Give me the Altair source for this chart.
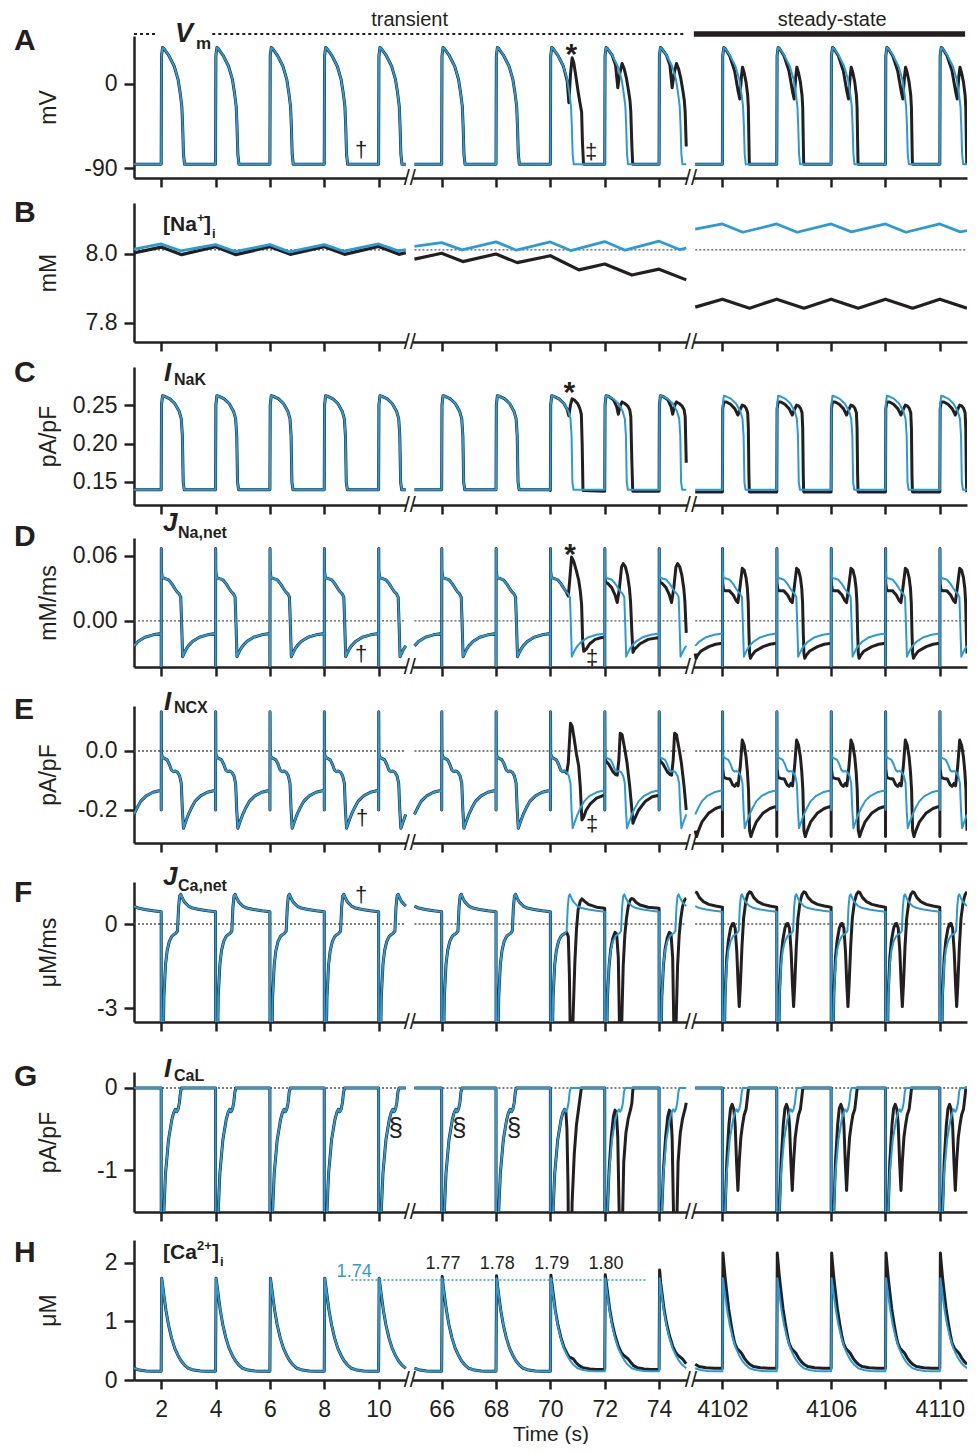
import altair as alt
import pandas as pd

BLACK = "#231f20"
BLUE = "#2a9bd5"
GREY = "#555555"
FONT = "Liberation Sans"
W = 833

# ---------------- time windows (broken x axis) ----------------
SEG_START = [1.0, 65.0, 4101.0]
SEG_END = [11.0, 75.0, 4111.0]
SEG_U0 = [0.0, 10.32, 20.65]
U_MAX = 30.65
BEATS = [[0, 2, 4, 6, 8, 10], [64, 66, 68, 70, 72, 74], [4100, 4102, 4104, 4106, 4108, 4110]]
BLACK_KIND = [["norm"] * 6, ["norm", "norm", "norm", "star", "alt", "alt"], ["ss"] * 6]
BLUE_KIND = [["norm"] * 6, ["norm"] * 6, ["norm"] * 6]
TICK_T = [2, 4, 6, 8, 10, 66, 68, 70, 72, 74, 4102, 4104, 4106, 4108, 4110]
TICK_LABELS = ["2", "4", "6", "8", "10", "66", "68", "70", "72", "74", "4102", "", "4106", "", "4110"]

# ---------------- A: Vm (mV), beat waveforms ----------------
A_NORM_T = [0.0, 0.012, 0.05, 0.10, 0.27, 0.48, 0.62, 0.70, 0.76, 0.79, 0.82, 0.86, 1.0, 1.999]
A_NORM_V = [-86, 30, 39, 38, 31, 19, 5, -10, -24, -45, -75, -86, -86, -86]
A_STAR_T = [0.0, 0.012, 0.05, 0.10, 0.27, 0.48, 0.62, 0.68, 0.74, 0.80, 0.86, 0.94, 1.02, 1.10, 1.15, 1.18, 1.22, 1.999]
A_STAR_V = [-86, 30, 39, 38, 31, 19, 3, -20, 10, 28, 23, 8, -8, -22, -30, -62, -86, -86]
A_ALT_T = [0.0, 0.012, 0.05, 0.10, 0.27, 0.40, 0.48, 0.56, 0.64, 0.72, 0.80, 0.88, 0.93, 0.96, 1.0, 1.03, 1.999]
A_ALT_V = [-86, 30, 39, 38, 31, 20, -4, 12, 22, 16, 6, -8, -18, -30, -67, -86, -86]
A_SS_T = [0.0, 0.012, 0.05, 0.10, 0.27, 0.45, 0.58, 0.64, 0.70, 0.74, 0.80, 0.87, 0.93, 0.955, 0.975, 0.99, 1.0, 1.999]
A_SS_V = [-86, 30, 39, 38, 30, 14, -8, -16, 8, 18, 12, 2, -12, -25, -60, -84, -86, -86]

# ---------------- B: [Na+]i (mM) ----------------
B_BLUE_T = [[1.0, 2.0, 2.72, 4.0, 4.72, 6.0, 6.72, 8.0, 8.72, 10.0, 10.72, 11.0],
            [65.0, 66.0, 66.75, 68.0, 68.75, 70.0, 70.75, 72.0, 72.75, 74.0, 74.75, 75.0],
            [4101.0, 4102.0, 4102.75, 4104.0, 4104.75, 4106.0, 4106.75, 4108.0, 4108.75, 4110.0, 4110.75, 4111.0]]
B_BLUE_V = [[8.014, 8.029, 8.009, 8.027, 8.007, 8.027, 8.006, 8.027, 8.008, 8.029, 8.009, 8.013],
            [8.022, 8.033, 8.012, 8.035, 8.011, 8.035, 8.010, 8.036, 8.011, 8.037, 8.013, 8.017],
            [8.072, 8.087, 8.063, 8.087, 8.063, 8.087, 8.064, 8.087, 8.063, 8.087, 8.064, 8.068]]
B_BLACK_T = [[1.0, 2.0, 2.75, 4.0, 4.75, 6.0, 6.75, 8.0, 8.75, 10.0, 10.75, 11.0],
             [65.0, 66.0, 66.78, 68.0, 68.78, 70.0, 71.05, 72.0, 73.0, 74.0, 75.0],
             [4101.0, 4102.0, 4103.0, 4104.0, 4105.0, 4106.0, 4107.0, 4108.0, 4109.0, 4110.0, 4111.0]]
B_BLACK_V = [[8.003, 8.020, 7.998, 8.021, 7.998, 8.021, 7.999, 8.021, 7.999, 8.022, 7.999, 8.004],
             [7.985, 8.002, 7.978, 8.000, 7.975, 7.995, 7.954, 7.971, 7.939, 7.956, 7.925],
             [7.846, 7.869, 7.843, 7.869, 7.843, 7.869, 7.843, 7.869, 7.843, 7.869, 7.843]]

# ---------------- C: INaK (pA/pF) ----------------
C_NORM_T = [0.0, 0.012, 0.05, 0.15, 0.32, 0.50, 0.66, 0.74, 0.78, 0.81, 0.85, 1.0, 1.999]
C_NORM_V = [0.140, 0.25, 0.262, 0.261, 0.258, 0.252, 0.242, 0.232, 0.21, 0.15, 0.140, 0.140, 0.140]
C_STAR_T = [0.0, 0.012, 0.05, 0.15, 0.32, 0.50, 0.62, 0.68, 0.74, 0.80, 0.90, 1.00, 1.08, 1.14, 1.17, 1.20, 1.999]
C_STAR_V = [0.139, 0.25, 0.262, 0.261, 0.258, 0.252, 0.244, 0.236, 0.250, 0.258, 0.256, 0.252, 0.246, 0.238, 0.200, 0.139, 0.138]
C_ALT_T = [0.0, 0.012, 0.05, 0.15, 0.32, 0.44, 0.50, 0.58, 0.64, 0.74, 0.84, 0.92, 0.96, 1.0, 1.03, 1.999]
C_ALT_V = [0.138, 0.25, 0.262, 0.261, 0.257, 0.248, 0.238, 0.250, 0.254, 0.252, 0.249, 0.244, 0.235, 0.175, 0.138, 0.138]
C_SS_T = [0.0, 0.012, 0.05, 0.15, 0.30, 0.46, 0.57, 0.64, 0.73, 0.80, 0.87, 0.93, 0.955, 0.975, 0.99, 1.0, 1.999]
C_SS_V = [0.137, 0.245, 0.254, 0.254, 0.251, 0.245, 0.237, 0.243, 0.250, 0.249, 0.246, 0.240, 0.220, 0.160, 0.138, 0.137, 0.137]

# ---------------- D: JNa,net (mM/ms) ----------------
D_NORM_T = [0.0, 0.002, 0.005, 0.010, 0.04, 0.10, 0.27, 0.40, 0.50, 0.58, 0.66, 0.72, 0.75, 0.79, 0.84, 0.92, 1.0, 1.15, 1.40, 1.70, 1.999]
D_NORM_V = [-0.0115, -0.08, 0.067, 0.046, 0.040, 0.0395, 0.038, 0.034, 0.030, 0.027, 0.025, 0.022, 0.0, -0.033, -0.030, -0.026, -0.023, -0.019, -0.015, -0.0128, -0.0115]
D_STAR_T = [0.0, 0.002, 0.005, 0.010, 0.04, 0.10, 0.27, 0.40, 0.50, 0.58, 0.66, 0.72, 0.78, 0.86, 0.96, 1.04, 1.10, 1.15, 1.19, 1.23, 1.32, 1.45, 1.65, 1.85, 1.999]
D_STAR_V = [-0.0118, -0.08, 0.067, 0.046, 0.040, 0.0395, 0.038, 0.034, 0.030, 0.027, 0.023, 0.040, 0.059, 0.055, 0.046, 0.038, 0.028, 0.015, -0.020, -0.028, -0.026, -0.021, -0.017, -0.0155, -0.0148]
D_ALT_T = [0.0, 0.002, 0.005, 0.010, 0.04, 0.10, 0.25, 0.38, 0.46, 0.54, 0.62, 0.68, 0.76, 0.84, 0.91, 0.95, 1.0, 1.04, 1.10, 1.30, 1.60, 1.999]
D_ALT_V = [-0.0148, -0.08, 0.067, 0.040, 0.035, 0.035, 0.031, 0.024, 0.017, 0.030, 0.050, 0.053, 0.050, 0.042, 0.030, 0.018, -0.011, -0.029, -0.026, -0.021, -0.017, -0.0152]
D_SS_T = [0.0, 0.002, 0.005, 0.010, 0.04, 0.10, 0.25, 0.40, 0.50, 0.57, 0.64, 0.73, 0.80, 0.87, 0.92, 0.95, 0.975, 1.0, 1.03, 1.08, 1.20, 1.50, 1.75, 1.999]
D_SS_V = [-0.0206, -0.08, 0.067, 0.035, 0.029, 0.028, 0.028, 0.024, 0.019, 0.017, 0.030, 0.0486, 0.047, 0.040, 0.030, 0.017, -0.010, -0.030, -0.0345, -0.032, -0.028, -0.0237, -0.0215, -0.0206]

# ---------------- E: INCX (pA/pF) ----------------
E_NORM_T = [0.0, 0.002, 0.005, 0.012, 0.05, 0.12, 0.22, 0.30, 0.38, 0.45, 0.52, 0.60, 0.68, 0.74, 0.78, 0.82, 0.90, 1.0, 1.10, 1.25, 1.45, 1.70, 1.999]
E_NORM_V = [-0.132, -0.20, 0.133, -0.010, -0.022, -0.025, -0.030, -0.045, -0.065, -0.070, -0.068, -0.072, -0.085, -0.110, -0.200, -0.262, -0.240, -0.215, -0.195, -0.170, -0.152, -0.140, -0.133]
E_STAR_T = [0.0, 0.002, 0.005, 0.012, 0.05, 0.12, 0.22, 0.30, 0.38, 0.45, 0.52, 0.60, 0.66, 0.74, 0.80, 0.88, 0.96, 1.04, 1.10, 1.16, 1.22, 1.32, 1.46, 1.70, 1.999]
E_STAR_V = [-0.137, -0.20, 0.133, -0.010, -0.022, -0.025, -0.030, -0.045, -0.065, -0.070, -0.068, -0.075, -0.040, 0.094, 0.085, 0.040, -0.010, -0.050, -0.120, -0.234, -0.225, -0.200, -0.180, -0.160, -0.149]
E_ALT_T = [0.0, 0.002, 0.005, 0.012, 0.05, 0.15, 0.30, 0.40, 0.46, 0.52, 0.57, 0.64, 0.75, 0.82, 0.87, 0.92, 0.96, 1.0, 1.04, 1.10, 1.25, 1.50, 1.75, 1.999]
E_ALT_V = [-0.149, -0.20, 0.133, -0.020, -0.035, -0.045, -0.070, -0.080, -0.082, -0.030, 0.060, 0.055, 0.000, -0.040, -0.080, -0.120, -0.160, -0.200, -0.245, -0.230, -0.200, -0.170, -0.155, -0.150]
E_SS_T = [0.0, 0.002, 0.005, 0.012, 0.05, 0.15, 0.28, 0.38, 0.45, 0.52, 0.58, 0.66, 0.73, 0.80, 0.87, 0.92, 0.96, 0.985, 1.0, 1.05, 1.12, 1.25, 1.50, 1.75, 1.999]
E_SS_V = [-0.186, -0.29, 0.133, -0.060, -0.090, -0.093, -0.095, -0.115, -0.120, -0.110, -0.118, -0.050, 0.037, 0.020, -0.020, -0.070, -0.130, -0.220, -0.270, -0.290, -0.270, -0.240, -0.210, -0.195, -0.187]

# ---------------- F: JCa,net (uM/ms) ----------------
F_NORM_T = [0.0, 0.004, 0.06, 0.10, 0.16, 0.22, 0.30, 0.39, 0.46, 0.54, 0.60, 0.64, 0.68, 0.72, 0.78, 0.86, 1.0, 1.15, 1.40, 1.70, 1.999]
F_NORM_V = [0.44, -5.0, -5.0, -2.6, -1.45, -0.95, -0.62, -0.44, -0.38, -0.33, -0.25, 0.60, 1.00, 1.06, 0.92, 0.78, 0.64, 0.57, 0.52, 0.47, 0.44]
F_STAR_T = [0.0, 0.004, 0.06, 0.10, 0.16, 0.22, 0.30, 0.39, 0.46, 0.54, 0.60, 0.66, 0.70, 0.74, 0.78, 0.84, 0.90, 0.96, 1.02, 1.10, 1.16, 1.25, 1.40, 1.70, 1.999]
F_STAR_V = [0.44, -5.0, -5.0, -2.6, -1.45, -0.95, -0.62, -0.44, -0.38, -0.33, -0.30, -0.45, -1.8, -4.5, -5.0, -3.2, -1.4, -0.2, 0.50, 0.82, 0.90, 0.82, 0.70, 0.60, 0.56]
F_ALT_T = [0.0, 0.004, 0.06, 0.10, 0.16, 0.22, 0.30, 0.38, 0.44, 0.50, 0.54, 0.58, 0.62, 0.68, 0.74, 0.80, 0.86, 0.92, 0.97, 1.0, 1.06, 1.15, 1.30, 1.60, 1.999]
F_ALT_V = [0.56, -5.0, -5.0, -2.6, -1.5, -0.9, -0.5, -0.3, -0.35, -1.2, -3.5, -5.0, -3.8, -1.5, -0.4, 0.2, 0.6, 0.82, 0.9, 0.91, 0.88, 0.78, 0.68, 0.6, 0.56]
F_SS_T = [0.0, 0.004, 0.06, 0.10, 0.16, 0.22, 0.30, 0.36, 0.41, 0.47, 0.53, 0.58, 0.62, 0.66, 0.72, 0.78, 0.86, 0.93, 1.0, 1.06, 1.15, 1.30, 1.50, 1.75, 1.999]
F_SS_V = [0.60, -5.0, -5.0, -2.5, -1.2, -0.6, -0.15, 0.0, 0.02, -0.15, -1.0, -2.2, -2.95, -2.2, -0.8, 0.2, 0.8, 1.05, 1.15, 1.12, 0.95, 0.80, 0.70, 0.64, 0.60]

# ---------------- G: ICaL (pA/pF) ----------------
G_NORM_T = [0.0, 0.004, 0.06, 0.10, 0.16, 0.27, 0.39, 0.46, 0.52, 0.57, 0.62, 0.67, 0.71, 0.75, 1.0, 1.999]
G_NORM_V = [0.0, -3.0, -3.0, -1.5, -1.04, -0.63, -0.39, -0.30, -0.26, -0.29, -0.26, -0.18, -0.05, 0.0, 0.0, 0.0]
G_STAR_T = [0.0, 0.004, 0.06, 0.10, 0.16, 0.27, 0.39, 0.46, 0.52, 0.57, 0.61, 0.65, 0.69, 0.74, 0.80, 0.88, 0.96, 1.04, 1.10, 1.14, 1.999]
G_STAR_V = [0.0, -3.0, -3.0, -1.5, -1.04, -0.63, -0.39, -0.30, -0.26, -0.28, -0.50, -1.2, -3.0, -3.0, -1.4, -0.8, -0.45, -0.25, -0.10, 0.0, 0.0]
G_ALT_T = [0.0, 0.004, 0.06, 0.10, 0.16, 0.24, 0.32, 0.38, 0.43, 0.48, 0.53, 0.58, 0.63, 0.70, 0.78, 0.86, 0.92, 0.96, 1.0, 1.04, 1.999]
G_ALT_V = [0.0, -3.0, -3.0, -1.5, -1.0, -0.6, -0.35, -0.27, -0.30, -0.6, -1.5, -3.0, -2.0, -0.9, -0.55, -0.38, -0.3, -0.25, -0.18, 0.0, 0.0]
G_SS_T = [0.0, 0.004, 0.06, 0.10, 0.16, 0.24, 0.30, 0.36, 0.42, 0.47, 0.52, 0.57, 0.62, 0.68, 0.74, 0.80, 0.87, 0.92, 0.96, 1.0, 1.999]
G_SS_V = [0.0, -3.0, -3.0, -1.5, -0.9, -0.45, -0.25, -0.20, -0.26, -0.45, -0.9, -1.25, -0.9, -0.6, -0.45, -0.33, -0.26, -0.12, 0.0, 0.0, 0.0]

# ---------------- H: [Ca2+]i (uM) ----------------
H_NORM_T = [0.0, 0.02, 0.06, 0.12, 0.18, 0.27, 0.38, 0.50, 0.62, 0.73, 0.85, 1.0, 1.2, 1.45, 1.7, 1.999]
H_NORM_V = [0.15, 1.74, 1.60, 1.38, 1.18, 0.94, 0.72, 0.54, 0.42, 0.33, 0.26, 0.20, 0.17, 0.155, 0.15, 0.15]
H_STAR_T = [0.0, 0.02, 0.06, 0.12, 0.18, 0.27, 0.38, 0.50, 0.62, 0.70, 0.76, 0.84, 0.94, 1.05, 1.2, 1.45, 1.7, 1.999]
H_STAR_V = [0.15, 1.79, 1.64, 1.42, 1.20, 0.96, 0.74, 0.56, 0.45, 0.39, 0.38, 0.36, 0.30, 0.25, 0.21, 0.19, 0.18, 0.18]
H_ALT_T = [0.0, 0.02, 0.06, 0.12, 0.18, 0.27, 0.38, 0.50, 0.60, 0.68, 0.76, 0.86, 0.96, 1.0, 1.05, 1.2, 1.45, 1.7, 1.999]
H_ALT_V = [0.18, 1.80, 1.66, 1.44, 1.22, 0.98, 0.76, 0.58, 0.48, 0.43, 0.40, 0.36, 0.30, 0.28, 0.25, 0.21, 0.19, 0.18, 0.18]
H_SS_T = [0.0, 0.02, 0.05, 0.10, 0.16, 0.23, 0.32, 0.40, 0.46, 0.54, 0.62, 0.70, 0.80, 0.91, 1.0, 1.14, 1.40, 1.70, 1.999]
H_SS_V = [0.20, 2.17, 2.00, 1.75, 1.50, 1.22, 0.95, 0.74, 0.62, 0.54, 0.50, 0.46, 0.38, 0.31, 0.27, 0.23, 0.21, 0.20, 0.20]
H_BLACK_PEAKS = [[1.74] * 6, [1.76, 1.77, 1.78, 1.79, 1.80, 1.88], [2.17] * 6]
H_BLUE_PEAKS = [[1.74] * 6, [1.74] * 6, [1.74] * 6]
H_PEAK_LABELS = ["1.77", "1.78", "1.79", "1.80"]
H_PEAK_TIMES = [66, 68, 70, 72]


def seg_of(t):
    for s in range(3):
        if SEG_START[s] - 1.5 <= t <= SEG_END[s] + 1.5:
            return s
    return 0


def to_u(t, s=None):
    if s is None:
        s = seg_of(t)
    return round(t - SEG_START[s] + SEG_U0[s], 4)


def beat_trace(tpl, kinds, peaks=None):
    rows = []
    for s in range(3):
        for j, b in enumerate(BEATS[s]):
            T, V = tpl[kinds[s][j]]
            for k, (o, v) in enumerate(zip(T, V)):
                t = b + o
                if SEG_START[s] - 1e-6 <= t <= SEG_END[s] + 1e-6:
                    if peaks is not None and k == 1:
                        v = peaks[s][j]
                    rows.append({"u": to_u(t, s), "v": v, "seg": s})
    df = pd.DataFrame(rows)
    df["i"] = range(len(df))
    return df


def point_trace(T, V):
    rows = []
    for s in range(3):
        for t, v in zip(T[s], V[s]):
            rows.append({"u": to_u(t, s), "v": v, "seg": s})
    df = pd.DataFrame(rows)
    df["i"] = range(len(df))
    return df


XT = [to_u(t) for t in TICK_T]
LABEL_EXPR = ("[" + ",".join("'%s'" % l for l in TICK_LABELS) + "][indexof(["
              + ",".join(repr(u) for u in XT) + "], datum.value)]")


def xenc(bottom):
    if bottom:
        axis = alt.Axis(values=XT, labelExpr=LABEL_EXPR, title="Time (s)", tickSize=9,
                        labelPadding=9, titlePadding=2, labelFlush=False, labelOverlap=False,
                        titleFontSize=21)
    else:
        axis = alt.Axis(values=XT, labels=False, title=None, tickSize=9)
    return alt.X("u:Q", scale=alt.Scale(domain=[0, U_MAX], nice=False, zero=False), axis=axis)


def yenc(dom, vals, fmt, title, h):
    return alt.Y("v:Q", scale=alt.Scale(domain=dom, nice=False, zero=False),
                 axis=alt.Axis(values=vals, format=fmt, title=title, titleX=-86, titleY=h / 2,
                               titleAngle=270, titleAlign="center", titleBaseline="middle",
                               tickSize=10, labelPadding=7,
                               labelExpr="replace(datum.label, '\u2212', '-')"))


def one():
    return pd.DataFrame({"a": [0]})


def txt(s, x, y, size, weight="normal", style="normal", color=BLACK, align="left"):
    return alt.Chart(one()).mark_text(text=s, font=FONT, fontSize=size, fontWeight=weight,
                                      fontStyle=style, color=color, align=align,
                                      baseline="middle").encode(x=alt.value(x), y=alt.value(y))


def txtu(s, u, y, size, weight="normal", color=BLACK):
    def make(X, Y):
        return alt.Chart(pd.DataFrame({"u": [u]})).mark_text(
            text=s, font=FONT, fontSize=size, fontWeight=weight, color=color,
            align="center", baseline="middle").encode(x=X, y=alt.value(y))
    return make


def ref_rule(val, X, Y, color=GREY):
    df = pd.DataFrame({"u": SEG_U0, "u2": [u + 10 for u in SEG_U0], "v": [val] * 3})
    return alt.Chart(df).mark_rule(color=color, strokeDash=[2, 2], strokeWidth=1.3).encode(
        x=X, x2="u2:Q", y=Y)


def breaks(X, h):
    gap = pd.DataFrame({"u": [10.04, 20.39], "u2": [10.27, 20.6]})
    mark = pd.DataFrame({"u": [10.15, 20.49]})
    return [
        alt.Chart(gap).mark_rule(color="white", strokeWidth=5).encode(x=X, x2="u2:Q", y=alt.value(h)),
        alt.Chart(mark).mark_text(text="//", font=FONT, fontSize=22, align="center",
                                  baseline="middle", color=BLACK).encode(x=X, y=alt.value(h)),
    ]


def panel(letter, letter_y, h, dom, yvals, yfmt, ytitle, black_df, blue_df,
          ref=None, bottom=False, extras=(), kw=3, bw=2):
    X = xenc(bottom)
    Y = yenc(dom, yvals, yfmt, ytitle, h)
    layers = []
    if ref is not None:
        layers.append(ref_rule(ref, X, Y))
    layers.append(alt.Chart(black_df).mark_line(color=BLACK, strokeWidth=kw, clip=True,
                                                 strokeJoin="round").encode(
        x=X, y=Y, detail="seg:N", order="i:Q"))
    layers.append(alt.Chart(blue_df).mark_line(color=BLUE, strokeWidth=bw, clip=True,
                                                strokeJoin="round").encode(
        x=X, y=Y, detail="seg:N", order="i:Q"))
    layers += breaks(X, h)
    layers.append(txt(letter, -120, letter_y, 30, weight="bold"))
    for e in extras:
        layers.append(e(X, Y) if callable(e) else e)
    return alt.layer(*layers).properties(width=W, height=h)


def spacer(h):
    return alt.Chart(one()).mark_text(text="").encode(
        x=alt.value(0), y=alt.value(0)).properties(width=W, height=h)


def tpl(prefix):
    g = globals()
    return {k: (g["%s_%s_T" % (prefix, k.upper())], g["%s_%s_V" % (prefix, k.upper())])
            for k in ["norm", "star", "alt", "ss"]}


# ---------------- panel A ----------------
top_dash = pd.DataFrame({"u": [0.0, 2.88], "u2": [0.8, 20.25]})
top_bar = pd.DataFrame({"u": [20.6], "u2": [30.58]})
A_extras = [
    lambda X, Y: alt.Chart(top_dash).mark_rule(color=BLACK, strokeDash=[3, 3], strokeWidth=2.2).encode(
        x=X, x2="u2:Q", y=alt.value(-2)),
    lambda X, Y: alt.Chart(top_bar).mark_rule(color=BLACK, strokeWidth=5.5).encode(
        x=X, x2="u2:Q", y=alt.value(-2)),
    txtu("transient", 10.14, -16, 20),
    txtu("steady-state", 25.69, -16, 20),
    txt("V", 41, -2, 27, weight="bold", style="italic"),
    txt("m", 62, 8, 17, weight="bold"),
    txtu("*", 16.09, 19, 30, weight="bold"),
    txtu("\u2020", 8.36, 114, 22),
    txtu("\u2021", 16.82, 116, 22),
]
pA = panel("A", 5, 142, [-100.7, 51.4], [-90, 0], "d", "mV",
           beat_trace(tpl("A"), BLACK_KIND), beat_trace(tpl("A"), BLUE_KIND), extras=A_extras)

# ---------------- panel B ----------------
B_extras = [
    txt("[Na", 29, 22, 21, weight="bold"),
    txt("+", 63, 15, 13, weight="bold"),
    txt("]", 70, 22, 21, weight="bold"),
    txt("i", 78, 31, 13, weight="bold"),
]
pB = panel("B", 10, 139, [7.7449, 8.1478], [7.8, 8.0], ".1f", "mM",
           point_trace(B_BLACK_T, B_BLACK_V), point_trace(B_BLUE_T, B_BLUE_V), ref=8.012,
           extras=B_extras, kw=3.2, bw=2.8)

# ---------------- panel C ----------------
C_extras = [
    txt("I", 30, 6, 26, weight="bold", style="italic"),
    txt("NaK", 40, 13, 16, weight="bold"),
    txtu("*", 16.02, 26, 30, weight="bold"),
]
pC = panel("C", 6, 138, [0.1201, 0.2994], [0.15, 0.20, 0.25], ".2f", "pA/pF",
           beat_trace(tpl("C"), BLACK_KIND), beat_trace(tpl("C"), BLUE_KIND), extras=C_extras)

# ---------------- panel D ----------------
D_extras = [
    txt("J", 29, -15, 26, weight="bold", style="italic"),
    txt("Na,net", 44, -5, 16, weight="bold"),
    txtu("*", 16.05, 17, 30, weight="bold"),
    txtu("\u2020", 8.36, 116, 22),
    txtu("\u2021", 16.86, 120, 22),
]
pD = panel("D", -1, 129, [-0.0425, 0.0766], [0.0, 0.06], ".2f", "mM/ms",
           beat_trace(tpl("D"), BLACK_KIND), beat_trace(tpl("D"), BLUE_KIND), ref=0.0, extras=D_extras)

# ---------------- panel E ----------------
E_extras = [
    txt("I", 30, -4, 26, weight="bold", style="italic"),
    txt("NCX", 40, 2, 16, weight="bold"),
    txtu("\u2020", 8.39, 112, 22),
    txtu("\u2021", 16.86, 118, 22),
]
pE = panel("E", 4, 137, [-0.3119, 0.1525], [-0.2, 0.0], ".1f", "pA/pF",
           beat_trace(tpl("E"), BLACK_KIND), beat_trace(tpl("E"), BLUE_KIND), ref=0.0, extras=E_extras)

# ---------------- panel F ----------------
F_extras = [
    txt("J", 29, -5, 26, weight="bold", style="italic"),
    txt("Ca,net", 44, 4, 16, weight="bold"),
    txtu("\u2020", 8.36, 13, 22),
]
pF = panel("F", 11, 140, [-3.5, 1.5], [-3, 0], "d", "\u03bcM/ms",
           beat_trace(tpl("F"), BLACK_KIND), beat_trace(tpl("F"), BLUE_KIND), ref=0.0, extras=F_extras)

# ---------------- panel G ----------------
G_extras = [
    txt("I", 30, -3, 26, weight="bold", style="italic"),
    txt("CaL", 40, 4, 16, weight="bold"),
    txtu("\u00a7", 9.63, 56, 26),
    txtu("\u00a7", 11.97, 56, 26),
    txtu("\u00a7", 13.98, 56, 26),
]
pG = panel("G", 5, 140, [-1.512, 0.195], [-1, 0], "d", "pA/pF",
           beat_trace(tpl("G"), BLACK_KIND), beat_trace(tpl("G"), BLUE_KIND), ref=0.0, extras=G_extras)

# ---------------- panel H ----------------
ca_ref = pd.DataFrame({"u": [8.0], "u2": [18.85], "v": [1.71]})
H_extras = [
    lambda X, Y: alt.Chart(ca_ref).mark_rule(color=BLUE, strokeDash=[2, 2], strokeWidth=1.5).encode(
        x=X, x2="u2:Q", y=Y),
    txt("[Ca", 29, 13, 21, weight="bold"),
    txt("2+", 63, 6, 13, weight="bold"),
    txt("]", 78, 13, 21, weight="bold"),
    txt("i", 86, 22, 13, weight="bold"),
    txtu("1.74", 8.10, 32, 18, color=BLUE),
] + [txtu(lbl, to_u(t) + 0.05, 24, 18) for lbl, t in zip(H_PEAK_LABELS, H_PEAK_TIMES)]
pH = panel("H", 13, 140, [0.0, 2.393], [0, 1, 2], "d", "\u03bcM",
           beat_trace(tpl("H"), BLACK_KIND, H_BLACK_PEAKS), beat_trace(tpl("H"), BLUE_KIND, H_BLUE_PEAKS),
           bottom=True, extras=H_extras)

PAD = {"left": 6, "top": 2, "right": 0, "bottom": 0}
chart = alt.vconcat(
    pA, spacer(25), pB, spacer(25), pC, spacer(33), pD, spacer(39), pE, spacer(39),
    pF, spacer(50), pG, spacer(28), pH, spacing=0, bounds="flush"
).properties(
    padding=PAD
).configure(
    padding=PAD
).configure_view(stroke=None).configure_axis(
    domainColor=BLACK, domainWidth=2.5, tickColor=BLACK, tickWidth=2.5,
    labelColor=BLACK, titleColor=BLACK, labelFont=FONT, titleFont=FONT,
    labelFontSize=23, titleFontSize=23, titleFontWeight="normal", grid=False
)

chart.save("out.html", embed_options={"renderer": "svg", "actions": False})
